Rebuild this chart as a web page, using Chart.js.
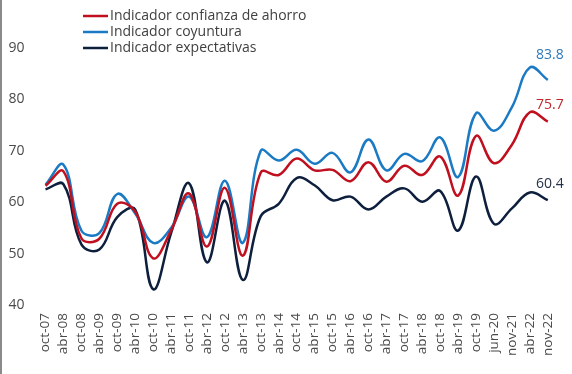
<!DOCTYPE html>
<html>
<head>
<meta charset="utf-8">
<script src="https://cdn.jsdelivr.net/npm/chart.js@4"></script>
<style>
  html, body { margin: 0; padding: 0; background: #fff; }
  #wrap { position: relative; width: 572px; height: 374px; box-sizing: border-box; border-left: 2px solid #8a8a8a; }
</style>
</head>
<body>
<div id="wrap"><canvas id="chart"></canvas></div>
<script>
const periodos = ['oct-07', 'abr-08', 'oct-08', 'abr-09', 'oct-09', 'abr-10', 'oct-10', 'abr-11', 'oct-11', 'abr-12',
    'oct-12', 'abr-13', 'oct-13', 'abr-14', 'oct-14', 'abr-15', 'oct-15', 'abr-16', 'oct-16', 'abr-17',
    'oct-17', 'abr-18', 'oct-18', 'abr-19', 'oct-19', 'jun-20', 'nov-21', 'abr-22', 'nov-22'];

const confianzaAhorro = [63.2, 66.0, 53.0, 52.9, 59.7, 58.2, 49.1, 54.5, 61.7, 51.4,
    62.8, 49.6, 65.8, 65.3, 68.5, 66.2, 66.3, 64.1, 67.8, 64.0,
    67.1, 65.3, 68.9, 61.3, 72.9, 67.6, 71.2, 77.5, 75.7];

const coyuntura = [63.4, 67.3, 54.5, 54.0, 61.6, 57.8, 52.1, 55.0, 61.1, 53.2,
    64.2, 52.1, 70.0, 68.1, 70.2, 67.5, 69.6, 65.8, 72.2, 66.2,
    69.4, 68.0, 72.6, 64.9, 77.3, 73.9, 78.5, 86.2, 83.8];

const expectativas = [62.5, 63.5, 51.8, 50.8, 57.1, 58.6, 43.1, 54.0, 63.7, 48.3,
    60.3, 44.9, 57.3, 59.7, 64.7, 63.3, 60.4, 61.1, 58.6, 61.1,
    62.7, 60.1, 62.2, 54.5, 65.0, 55.8, 58.8, 61.9, 60.4];

const yTicks = [40, 50, 60, 70, 80, 90];

const FONT = '"Open Sans", sans-serif';

// legend drawn as a vertical list at the top-left
const legendPlugin = {
    id: 'stackedLegend',
    afterDraw(chart) {
        const ctx = chart.ctx;
        ctx.save();
        ctx.font = '14px ' + FONT;
        ctx.textBaseline = 'middle';
        chart.data.datasets.forEach((ds, i) => {
            const y = 16 + i * 16;
            ctx.strokeStyle = ds.borderColor;
            ctx.lineWidth = 2.5;
            ctx.beginPath();
            ctx.moveTo(81, y);
            ctx.lineTo(106, y);
            ctx.stroke();
            ctx.fillStyle = '#404040';
            ctx.fillText(ds.label, 108, y);
        });
        ctx.restore();
    }
};

// value label on the last point of each line
const lastLabelPlugin = {
    id: 'lastLabel',
    afterDatasetsDraw(chart) {
        const ctx = chart.ctx;
        const lift = [17, 25, 16];
        ctx.save();
        ctx.font = '14px ' + FONT;
        ctx.textAlign = 'center';
        ctx.textBaseline = 'middle';
        chart.data.datasets.forEach((ds, i) => {
            const pts = chart.getDatasetMeta(i).data;
            const p = pts[pts.length - 1];
            ctx.fillStyle = ds.labelColor;
            ctx.fillText(ds.data[ds.data.length - 1].toFixed(1), p.x + 2, p.y - lift[i]);
        });
        ctx.restore();
    }
};

new Chart(document.getElementById('chart'), {
    type: 'line',
    data: {
        labels: periodos,
        datasets: [
            {
                label: 'Indicador confianza de ahorro',
                data: confianzaAhorro,
                borderColor: '#c00f1e',
                labelColor: '#c0282d'
            },
            {
                label: 'Indicador coyuntura',
                data: coyuntura,
                borderColor: '#1b7ac4',
                labelColor: '#2f78b8'
            },
            {
                label: 'Indicador expectativas',
                data: expectativas,
                borderColor: '#0e1f3d',
                labelColor: '#253049'
            }
        ]
    },
    options: {
        responsive: true,
        maintainAspectRatio: false,
        animation: false,
        layout: { padding: { top: 48, right: 8, bottom: 10, left: 0 } },
        elements: {
            line: { tension: 0.4, borderWidth: 2.5, fill: false },
            point: { radius: 0 }
        },
        plugins: {
            legend: { display: false },
            tooltip: { enabled: false }
        },
        scales: {
            x: {
                offset: false,
                grid: { display: false, drawTicks: false },
                border: { display: false },
                ticks: {
                    autoSkip: false,
                    minRotation: 90,
                    maxRotation: 90,
                    padding: 8,
                    color: '#4a4a4a',
                    font: { family: FONT, size: 13.5 }
                }
            },
            y: {
                min: 40,
                max: 90,
                afterBuildTicks(axis) {
                    axis.ticks = yTicks.map(v => ({ value: v }));
                },
                afterFit(axis) {
                    axis.width = 43.5;
                },
                grid: { display: false, drawTicks: false },
                border: { display: false },
                ticks: {
                    padding: 21,
                    color: '#4a4a4a',
                    font: { family: FONT, size: 14 }
                }
            }
        }
    },
    plugins: [legendPlugin, lastLabelPlugin]
});
</script>
</body>
</html>
